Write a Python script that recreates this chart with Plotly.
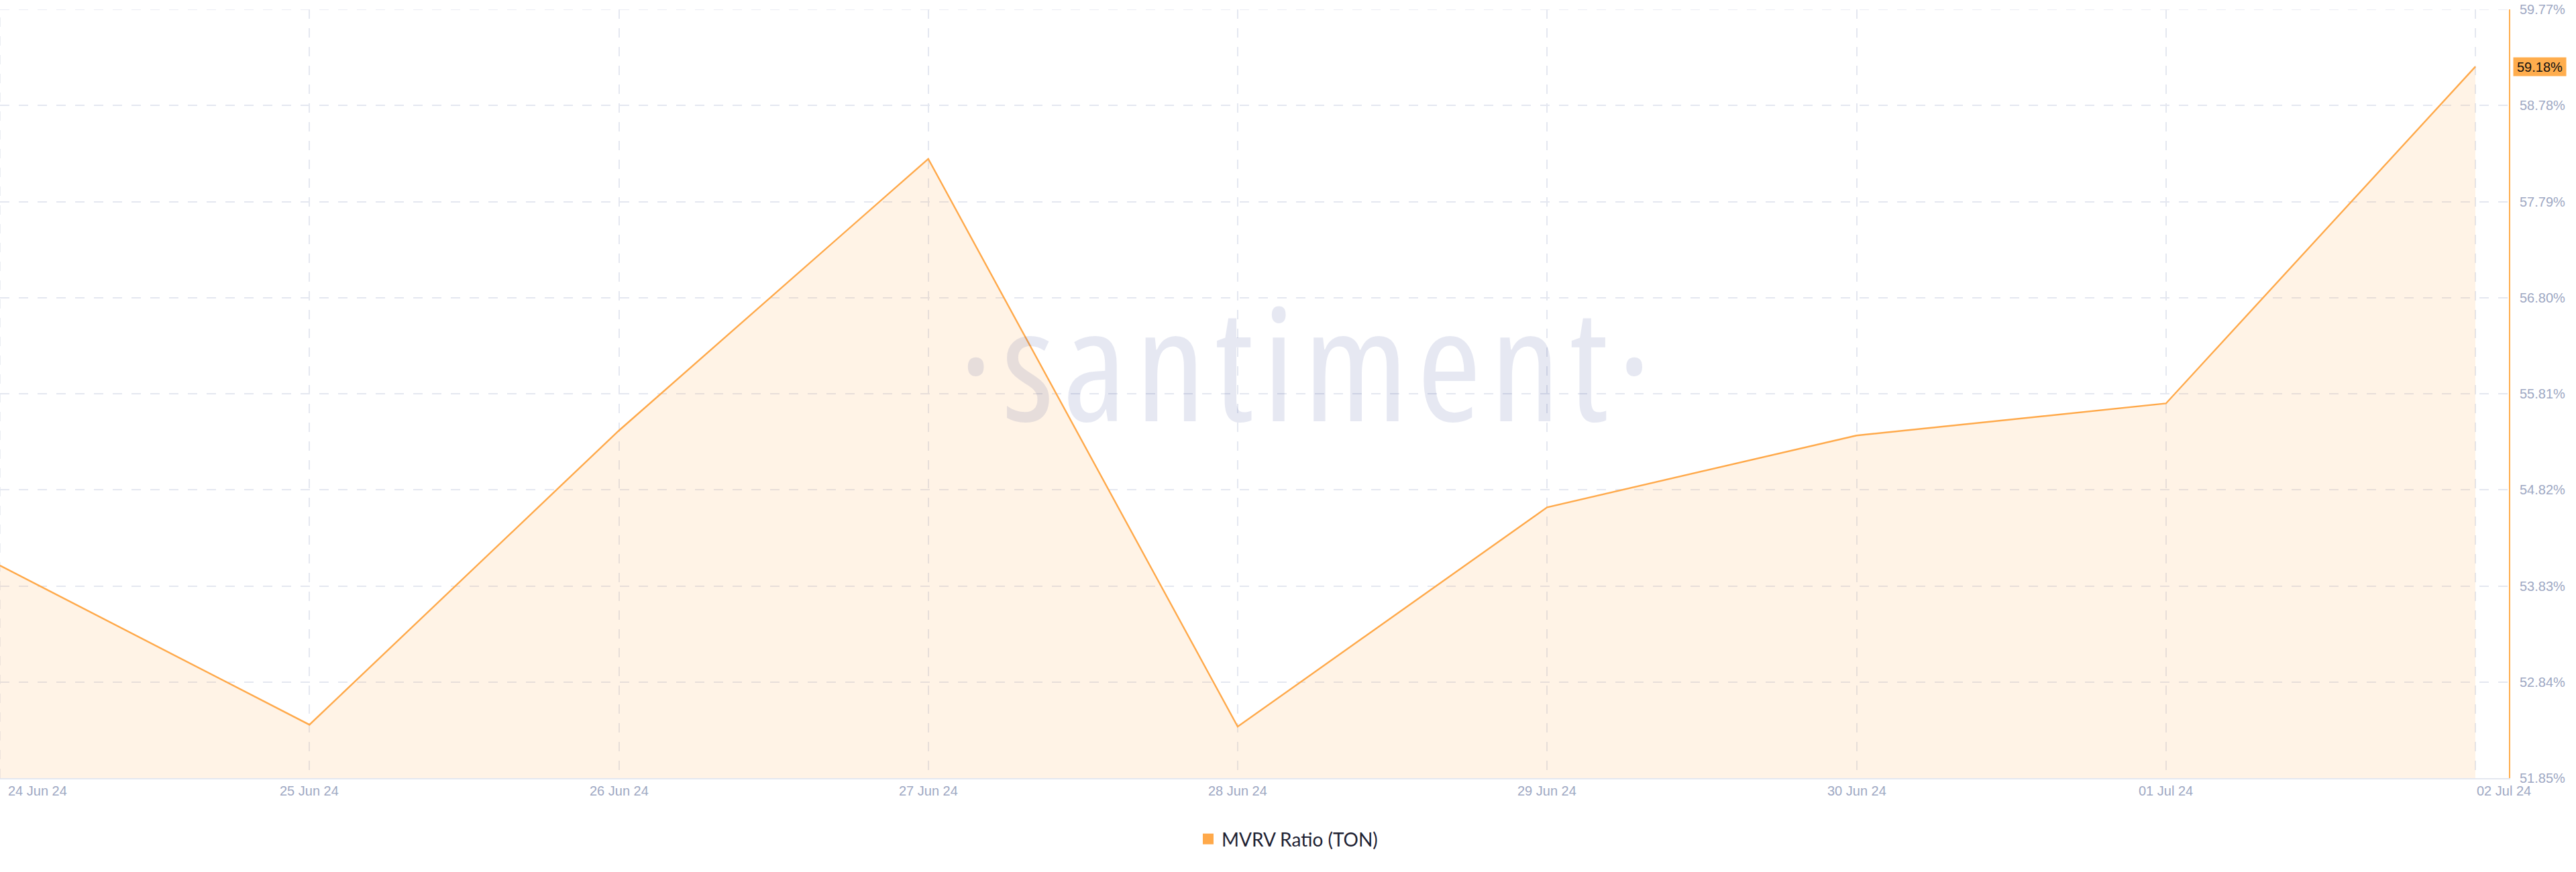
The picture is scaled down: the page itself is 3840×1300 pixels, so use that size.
import pandas as pd
import plotly.graph_objects as go

# ---- data ----
dates = ["2024-06-24", "2024-06-25", "2024-06-26", "2024-06-27", "2024-06-28",
         "2024-06-29", "2024-06-30", "2024-07-01", "2024-07-02"]
mvrv = [54.04, 52.40, 55.43, 58.23, 52.38, 54.64, 55.38, 55.71, 59.18]
x_labels = ["24 Jun 24", "25 Jun 24", "26 Jun 24", "27 Jun 24", "28 Jun 24",
            "29 Jun 24", "30 Jun 24", "01 Jul 24", "02 Jul 24"]
y_ticks = [51.85, 52.84, 53.83, 54.82, 55.81, 56.80, 57.79, 58.78, 59.77]
y_labels = ["51.85%", "52.84%", "53.83%", "54.82%", "55.81%", "56.80%", "57.79%", "58.78%", "59.77%"]
series_name = "MVRV Ratio (TON)"
last_label = "59.18%"

ORANGE = "#ffa94a"
TICK = "#9ea8c3"
GRID = "#e4e7f0"

W, H = 3840, 1300
L, R, T, B = 0, 100, 14, 140
PW = W - L - R
PH = H - T - B

x0 = pd.Timestamp(dates[0])
day_px = 461.25
x1 = x0 + pd.Timedelta(days=PW / day_px)

fig = go.Figure()
fig.add_trace(go.Scatter(
    x=dates, y=mvrv, mode="lines",
    line=dict(color=ORANGE, width=2.4),
    fill="tozeroy", fillcolor="rgba(255,173,77,0.14)",
    showlegend=False, hoverinfo="skip",
))
fig.add_trace(go.Scatter(
    x=[None], y=[None], mode="markers", name=series_name,
    marker=dict(symbol="square", size=18, color=ORANGE),
))

annotations = []
# watermark
annotations.append(dict(
    text='<span style="font-stretch:75%;letter-spacing:13px">\u00b7santiment\u00b7</span>',
    xref="paper", yref="paper", x=1952 / PW, y=(1160 - 538) / PH,
    xanchor="center", yanchor="middle", showarrow=False,
    font=dict(family="Open Sans", size=232, color="rgba(5,25,125,0.1)"),
))
# x labels
for i, (d, lab) in enumerate(zip(dates, x_labels)):
    if i == 0:
        xa, xs = "left", 10
    elif i == len(dates) - 1:
        xa, xs = "left", 0
    else:
        xa, xs = "center", 0
    annotations.append(dict(
        text=lab, x=d, xref="x", y=-(1179 - 1160) / PH, yref="paper",
        xanchor=xa, yanchor="middle", xshift=xs, showarrow=False,
        font=dict(family="Liberation Sans", size=20, color=TICK),
    ))
# last value badge
annotations.append(dict(
    text=last_label, xref="paper", x=1, xshift=6, xanchor="left",
    yref="y", y=mvrv[-1], yanchor="middle", showarrow=False,
    bgcolor="#ffad4d", borderpad=1, width=76, height=25,
    font=dict(family="Liberation Sans", size=20, color="#111111"),
))

grid_dash = "14px,14px"
shapes = [
    # top horizontal grid line and left vertical grid line (plot edges)
    dict(type="line", xref="paper", x0=0, x1=1, yref="y", y0=y_ticks[-1], y1=y_ticks[-1],
         line=dict(color=GRID, width=1.5, dash=grid_dash), layer="below"),
    dict(type="line", xref="x", x0=dates[0], x1=dates[0], yref="paper", y0=0, y1=1,
         line=dict(color=GRID, width=1.5, dash=grid_dash), layer="below"),
]

fig.update_layout(
    width=W, height=H,
    margin=dict(l=L, r=R, t=T, b=B),
    paper_bgcolor="white", plot_bgcolor="white",
    showlegend=True,
    legend=dict(orientation="h", x=1920 / PW, xanchor="center",
                y=-(1251 - 1160) / PH, yanchor="middle",
                font=dict(family="Lato", size=28, color="#1e2233"),
                bgcolor="rgba(0,0,0,0)"),
    annotations=annotations,
    shapes=shapes,
    xaxis=dict(
        range=[x0, x1], type="date",
        tickvals=dates, showticklabels=False, ticks="",
        showgrid=True, gridcolor=GRID, gridwidth=1.5, griddash=grid_dash,
        showline=True, linecolor="#e3e7f0", linewidth=2,
        zeroline=False,
    ),
    yaxis=dict(
        range=[y_ticks[0], y_ticks[-1]], side="right",
        tickvals=y_ticks, ticktext=y_labels, ticks="",
        ticklabelstandoff=10,
        tickfont=dict(family="Liberation Sans", size=20, color=TICK),
        showgrid=True, gridcolor=GRID, gridwidth=1.5, griddash=grid_dash,
        showline=True, linecolor="#ffad4d", linewidth=2,
        zeroline=False,
    ),
)

fig.write_html("out.html", config={"displayModeBar": False},
               post_script="document.body.style.margin='0';document.body.style.overflow='hidden';")
